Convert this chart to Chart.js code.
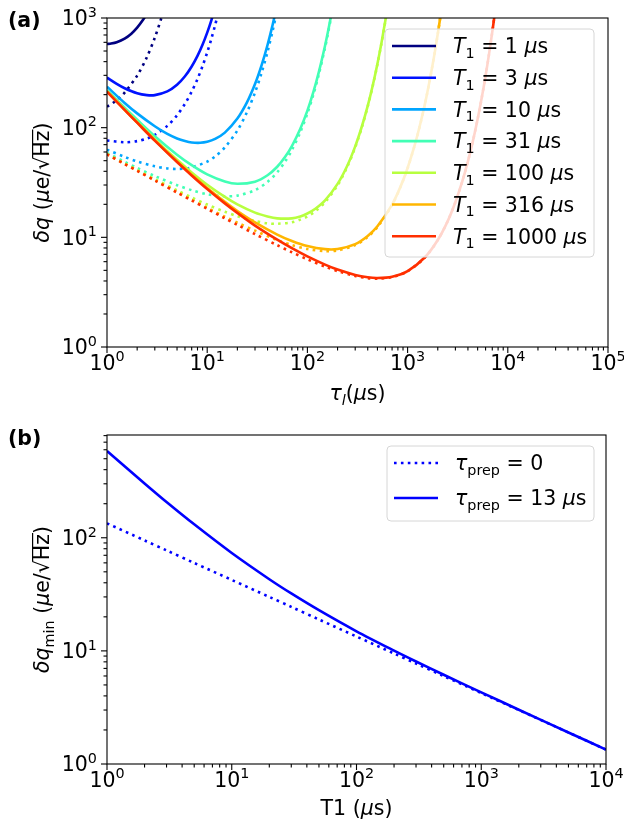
<!DOCTYPE html>
<html>
<head>
<meta charset="utf-8">
<script src="https://cdn.jsdelivr.net/npm/chart.js@4.4.1/dist/chart.umd.min.js"></script>
<style>
  body { margin: 0; background: #fff; }
  #wrap { position: relative; width: 624px; height: 823px; }
  canvas { position: absolute; left: 0; }
</style>
</head>
<body>
<div id="wrap">
  <canvas id="chartA" width="624" height="430" style="top:0"></canvas>
  <canvas id="chartB" width="624" height="423" style="top:400px"></canvas>
</div>
<script>
// ---- data ----
const t1Labels = ['1', '3', '10', '31', '100', '316', '1000'];
const t1Colors = ['#000080', '#0012ff', '#00a5ff', '#42ffb5', '#b7ff3f', '#ffb600', '#ff2f00'];

// T1 = 1 us
const tauS1 = [1, 1.1, 1.25, 1.5, 1.75, 2, 2.3, 2.5];
const solid1 = [580, 585, 601, 649, 720, 816, 967, 1093];
const tauD1 = [1, 1.25, 1.5, 2, 2.5, 3, 3.5, 3.7];
const dotted1 = [155, 178, 209, 298, 439, 661, 1009, 1199];

// T1 = 3 us
const tauS3 = [1, 1.25, 1.5, 2, 2.5, 3, 4, 5, 6, 7, 8, 9, 10, 11, 12];
const solid3 = [286, 251, 229, 206, 198, 198, 214, 246, 294, 361, 451, 573, 736, 953, 1245];
const tauD3 = [1, 1.5, 2, 2.5, 3, 4, 5, 6, 7, 8, 9, 10, 11, 12, 12.5, 13];
const dotted3 = [76.3, 73.6, 75.4, 79.6, 85.9, 103.8, 129.6, 165, 213, 278, 366, 485, 646, 862, 998, 1157];

// T1 = 10 us
const tauS10 = [1, 1.5, 2, 3, 4, 5, 6, 7, 8.5, 10, 12, 15, 20, 25, 30, 35, 40, 45, 47];
const solid10 = [236, 168, 135, 103, 87.6, 79.7, 75.5, 73.3, 72.8, 74.3, 78.9, 90.1, 121, 171, 250, 374, 567, 868, 1033];
const tauD10 = [1, 1.5, 2, 3, 4, 5, 6, 7, 10, 12, 15, 20, 25, 30, 35, 40, 45, 48, 50];
const dotted10 = [63.0, 54.1, 49.2, 44.4, 42.5, 42.0, 42.4, 43.4, 49.0, 54.6, 66.0, 94.2, 139, 209, 319, 492, 765, 1000, 1196];

// T1 = 31 us
const tau31 = [1, 1.5, 2, 3, 5, 7, 10, 15, 20, 30, 40, 50, 60, 70, 85, 100, 115, 130, 150, 160, 170, 175];
const solid31 = [220, 152, 118, 83.6, 56.7, 45.5, 37.5, 32.3, 30.8, 32.2, 36.8, 44.0, 54.2, 68.0, 97.8, 143, 213, 321, 559, 741, 984, 1136];
const dotted31 = [58.8, 48.8, 42.9, 36.2, 29.9, 26.9, 24.7, 23.7, 24.0, 26.9, 32.0, 39.2, 49.1, 62.5, 91.1, 135, 202, 306, 536, 712, 949, 1096];

// T1 = 100 us
const tau100 = [1, 1.5, 2, 3, 5, 7, 10, 15, 20, 30, 40, 50, 70, 85, 100, 120, 150, 200, 250, 300, 350, 400, 450, 500, 550, 600, 620];
const solid100 = [215, 147, 113, 78.3, 50.9, 39.1, 30.2, 23.4, 20.0, 16.8, 15.5, 14.9, 14.9, 15.5, 16.5, 18.2, 21.7, 30.7, 45.0, 67.5, 103, 158, 245, 383, 602, 949, 1140];
const dotted100 = [57.6, 47.2, 41.1, 33.9, 26.8, 23.1, 19.9, 17.1, 15.6, 14.1, 13.4, 13.3, 13.7, 14.5, 15.5, 17.3, 20.9, 29.8, 43.9, 66.1, 101, 156, 242, 378, 595, 939, 1128];

// T1 = 316 us
const tau316 = [1, 1.5, 2, 3, 5, 7, 10, 15, 20, 30, 50, 70, 100, 150, 200, 300, 400, 500, 700, 850, 1000, 1200, 1350, 1500, 1650, 1800, 1900, 2000, 2100, 2200];
const solid316 = [214, 145, 111, 76.7, 49.1, 37.2, 28.2, 21.1, 17.4, 13.7, 10.6, 9.26, 8.32, 7.80, 7.83, 8.68, 10.3, 12.6, 19.9, 29.0, 42.9, 73.8, 112, 170, 261, 401, 536, 717, 960, 1287];
const dotted316 = [57.2, 46.8, 40.6, 33.2, 25.9, 22.0, 18.6, 15.4, 13.6, 11.5, 9.44, 8.50, 7.82, 7.48, 7.59, 8.50, 10.1, 12.4, 19.7, 28.8, 42.6, 73.4, 111, 169, 260, 400, 534, 715, 957, 1283];

// T1 = 1000 us
const tau1000 = [1, 1.5, 2, 3, 5, 7, 10, 15, 20, 30, 50, 70, 100, 150, 200, 300, 400, 500, 700, 1000, 1500, 2000, 2500, 3000, 3500, 4000, 4500, 5000, 5500, 6000, 6500, 7000, 7300, 7500];
const solid1000 = [213, 145, 111, 76.2, 48.6, 36.7, 27.6, 20.4, 16.7, 12.8, 9.51, 7.96, 6.70, 5.64, 5.08, 4.54, 4.32, 4.26, 4.38, 4.93, 6.62, 9.45, 13.9, 21.0, 32.0, 49.3, 76.6, 120, 188, 297, 471, 748, 988, 1191];
const dotted1000 = [57.1, 46.6, 40.4, 33.0, 25.6, 21.7, 18.2, 14.9, 13.0, 10.7, 8.48, 7.31, 6.30, 5.41, 4.92, 4.44, 4.25, 4.20, 4.34, 4.90, 6.60, 9.42, 13.9, 20.9, 31.9, 49.2, 76.5, 120, 188, 297, 470, 747, 987, 1190];

// panel (b): minimum vs T1
const t1B = [1, 2, 3, 5, 10, 20, 30, 50, 100, 200, 300, 500, 1000, 2000, 5000, 10000];
const minPrep13 = [584, 302, 207, 131.4, 73.3, 43.0, 32.2, 22.9, 14.9, 10.05, 8.06, 6.15, 4.30, 3.02, 1.90, 1.34];
const minPrep0 = [134, 94.8, 77.4, 59.9, 42.4, 30.0, 24.5, 18.95, 13.4, 9.48, 7.74, 5.99, 4.24, 3.00, 1.90, 1.34];

// tick labels
const xTicksA = [1, 10, 100, 1000, 10000, 100000];
const yTicksA = [1, 10, 100, 1000];
const xTicksB = [1, 10, 100, 1000, 10000];
const yTicksB = [1, 10, 100];

// ---- drawing helpers ----
const FS = 20.5;
const FAM = '"DejaVu Sans"';
const fN = FS + 'px ' + FAM;
const fI = 'italic ' + FS + 'px ' + FAM;
const fS = (FS * 0.7) + 'px ' + FAM;
const fSI = 'italic ' + (FS * 0.7) + 'px ' + FAM;
const fB = 'bold ' + FS + 'px ' + FAM;
const SUB = FS * 0.22;
const LW = 2.6;
const DOT = [2.6, 4.3];

function pts(xs, ys) {
    return xs.map((x, i) => ({ x: x, y: ys[i] }));
}

function drawRich(ctx, parts, x, y, align) {
    let w = 0;
    parts.forEach(p => { ctx.font = p.f; p.w = ctx.measureText(p.t).width; w += p.w; });
    let cx = align === 'center' ? x - w / 2 : (align === 'right' ? x - w : x);
    ctx.textAlign = 'left';
    ctx.textBaseline = 'alphabetic';
    ctx.fillStyle = '#000';
    parts.forEach(p => {
        ctx.font = p.f;
        ctx.fillText(p.t, cx, y + (p.dy || 0));
        if (p.over) {
            ctx.beginPath();
            ctx.lineWidth = 1.2;
            ctx.strokeStyle = '#000';
            ctx.moveTo(cx - 1, y - FS * 0.8);
            ctx.lineTo(cx + p.w + 1, y - FS * 0.8);
            ctx.stroke();
        }
        cx += p.w;
    });
}

function powParts(v) {
    const e = Math.round(Math.log10(v));
    return [{ t: '10', f: fN }, { t: String(e), f: fS, dy: -FS * 0.42 }];
}

function roundBox(ctx, x, y, w, h, r) {
    ctx.beginPath();
    ctx.moveTo(x + r, y);
    ctx.lineTo(x + w - r, y);
    ctx.arcTo(x + w, y, x + w, y + r, r);
    ctx.lineTo(x + w, y + h - r);
    ctx.arcTo(x + w, y + h, x + w - r, y + h, r);
    ctx.lineTo(x + r, y + h);
    ctx.arcTo(x, y + h, x, y + h - r, r);
    ctx.lineTo(x, y + r);
    ctx.arcTo(x, y, x + r, y, r);
    ctx.closePath();
}

function makeDecor(cfg) {
    return {
        id: 'decor',
        afterDraw(chart) {
            const ctx = chart.ctx, a = chart.chartArea;
            const xs = chart.scales.x, ys = chart.scales.y;
            ctx.save();

            // frame
            ctx.strokeStyle = '#000';
            ctx.lineWidth = 1.1;
            ctx.strokeRect(a.left, a.top, a.right - a.left, a.bottom - a.top);

            // ticks
            cfg.xTicks.forEach(v => {
                for (let m = 1; m < 10; m++) {
                    const t = v * m;
                    if (t > xs.max * 1.0001) break;
                    const p = xs.getPixelForValue(t);
                    ctx.beginPath();
                    ctx.moveTo(p, a.bottom);
                    ctx.lineTo(p, a.bottom + (m === 1 ? 6 : 3.5));
                    ctx.stroke();
                }
                drawRich(ctx, powParts(v), xs.getPixelForValue(v), a.bottom + 23, 'center');
            });
            cfg.yTicks.forEach(v => {
                for (let m = 1; m < 10; m++) {
                    const t = v * m;
                    if (t > ys.max * 1.0001) break;
                    const p = ys.getPixelForValue(t);
                    ctx.beginPath();
                    ctx.moveTo(a.left, p);
                    ctx.lineTo(a.left - (m === 1 ? 6 : 3.5), p);
                    ctx.stroke();
                }
                drawRich(ctx, powParts(v), a.left - 10, ys.getPixelForValue(v) + FS * 0.36, 'right');
            });

            // axis titles
            drawRich(ctx, cfg.xTitle, (a.left + a.right) / 2, a.bottom + cfg.xTitleOff, 'center');
            ctx.save();
            ctx.translate(49, (a.top + a.bottom) / 2);
            ctx.rotate(-Math.PI / 2);
            drawRich(ctx, cfg.yTitle, 0, 0, 'center');
            ctx.restore();

            // panel tag
            drawRich(ctx, [{ t: cfg.tag, f: fB }], 8, cfg.tagY, 'left');

            // legend
            const L = cfg.legend;
            roundBox(ctx, L.x, L.y, L.w, L.h, 4);
            ctx.fillStyle = 'rgba(255,255,255,0.8)';
            ctx.fill();
            ctx.strokeStyle = '#d6d6d6';
            ctx.lineWidth = 1;
            ctx.stroke();
            L.entries.forEach((e, i) => {
                const ry = L.row0 + i * L.step;
                ctx.beginPath();
                ctx.strokeStyle = e.color;
                ctx.lineWidth = LW;
                ctx.setLineDash(e.dash || []);
                ctx.moveTo(L.x + 7, ry);
                ctx.lineTo(L.x + 51, ry);
                ctx.stroke();
                ctx.setLineDash([]);
                drawRich(ctx, e.parts, L.x + 68, ry + FS * 0.36, 'left');
            });
            ctx.restore();
        }
    };
}

function panel(id, datasets, xMax, yMax, xAxisH, padTop, padRight, deco) {
    return new Chart(document.getElementById(id), {
        type: 'line',
        data: { datasets: datasets },
        options: {
            responsive: false,
            animation: false,
            events: [],
            layout: { padding: { top: padTop, right: padRight, left: 0, bottom: 0 } },
            plugins: { legend: { display: false }, tooltip: { enabled: false } },
            elements: {
                point: { radius: 0 },
                line: { tension: 0.3, capBezierPoints: false, borderWidth: LW }
            },
            scales: {
                x: {
                    type: 'logarithmic', min: 1, max: xMax,
                    ticks: { display: false }, grid: { display: false }, border: { display: false },
                    afterFit: s => { s.height = xAxisH; }
                },
                y: {
                    type: 'logarithmic', min: 1, max: yMax,
                    ticks: { display: false }, grid: { display: false }, border: { display: false },
                    afterFit: s => { s.width = 107; }
                }
            }
        },
        plugins: [deco]
    });
}

// ---- panel (a) ----
const curvesA = [
    [tauS1, solid1, tauD1, dotted1],
    [tauS3, solid3, tauD3, dotted3],
    [tauS10, solid10, tauD10, dotted10],
    [tau31, solid31, tau31, dotted31],
    [tau100, solid100, tau100, dotted100],
    [tau316, solid316, tau316, dotted316],
    [tau1000, solid1000, tau1000, dotted1000]
];
const dsA = [];
curvesA.forEach((c, i) => {
    dsA.push({ data: pts(c[0], c[1]), borderColor: t1Colors[i], order: -(2 * i) });
    dsA.push({ data: pts(c[2], c[3]), borderColor: t1Colors[i], borderDash: DOT, order: -(2 * i + 1) });
});

const muS = [{ t: 'μ', f: fI }, { t: 's', f: fN }];
panel('chartA', dsA, 100000, 1000, 83, 18, 16, makeDecor({
    xTicks: xTicksA, yTicks: yTicksA,
    xTitle: [{ t: 'τ', f: fI }, { t: 'l', f: fSI, dy: SUB }, { t: '(', f: fN }, { t: 'μ', f: fI }, { t: 's)', f: fN }],
    xTitleOff: 53,
    yTitle: [{ t: 'δq', f: fI }, { t: ' (', f: fN }, { t: 'μ', f: fI }, { t: 'e/', f: fN }, { t: '√', f: fN }, { t: 'Hz', f: fN, over: true }, { t: ')', f: fN }],
    tag: '(a)', tagY: 27,
    legend: {
        x: 385, y: 29, w: 209, h: 228, row0: 46, step: 31.7,
        entries: t1Labels.map((lab, i) => ({
            color: t1Colors[i],
            parts: [{ t: 'T', f: fI }, { t: '1', f: fS, dy: SUB }, { t: ' = ' + lab + ' ', f: fN }].concat(muS)
        }))
    }
}));

// ---- panel (b) ----
const dsB = [
    { data: pts(t1B, minPrep0), borderColor: '#0000ff', borderDash: DOT },
    { data: pts(t1B, minPrep13), borderColor: '#0000ff' }
];
panel('chartB', dsB, 10000, 810, 59, 35, 18, makeDecor({
    xTicks: xTicksB, yTicks: yTicksB,
    xTitle: [{ t: 'T1 (', f: fN }, { t: 'μ', f: fI }, { t: 's)', f: fN }],
    xTitleOff: 51,
    yTitle: [{ t: 'δq', f: fI }, { t: 'min', f: fS, dy: SUB }, { t: ' (', f: fN }, { t: 'μ', f: fI }, { t: 'e/', f: fN }, { t: '√', f: fN }, { t: 'Hz', f: fN, over: true }, { t: ')', f: fN }],
    tag: '(b)', tagY: 45,
    legend: {
        x: 387, y: 46, w: 207, h: 75, row0: 63, step: 35,
        entries: [
            { color: '#0000ff', dash: DOT, parts: [{ t: 'τ', f: fI }, { t: 'prep', f: fS, dy: SUB }, { t: ' = 0', f: fN }] },
            { color: '#0000ff', parts: [{ t: 'τ', f: fI }, { t: 'prep', f: fS, dy: SUB }, { t: ' = 13 ', f: fN }].concat(muS) }
        ]
    }
}));
</script>
</body>
</html>
